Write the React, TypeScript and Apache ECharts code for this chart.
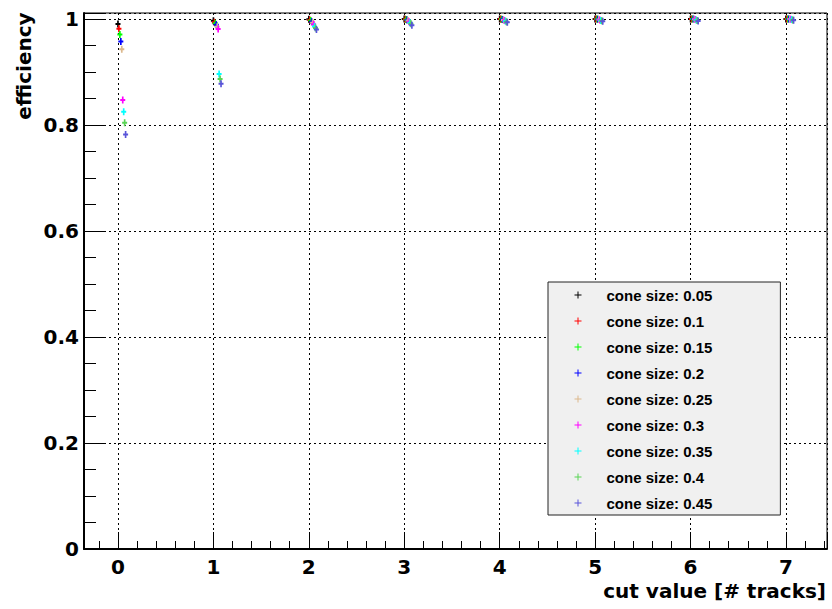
import React, { useEffect, useRef } from "react";
import * as echarts from "echarts";

const cutValues = [0, 1, 2, 3, 4, 5, 6, 7];
const coneNames = [
  "cone size: 0.05",
  "cone size: 0.1",
  "cone size: 0.15",
  "cone size: 0.2",
  "cone size: 0.25",
  "cone size: 0.3",
  "cone size: 0.35",
  "cone size: 0.4",
  "cone size: 0.45",
];
const eff005 = [0.9906, 0.9968, 0.9995, 1.0, 1.0, 1.0, 1.0, 1.0];
const eff010 = [0.9815, 0.994, 0.998, 0.9995, 1.0, 1.0, 1.0, 1.0];
const eff015 = [0.9705, 0.992, 0.997, 0.999, 0.9995, 1.0, 1.0, 1.0];
const eff020 = [0.9575, 0.989, 0.995, 0.998, 0.999, 0.9995, 1.0, 1.0];
const eff025 = [0.943, 0.9855, 0.993, 0.997, 0.998, 0.999, 0.9995, 1.0];
const eff030 = [0.847, 0.981, 0.99, 0.995, 0.997, 0.998, 0.999, 0.9995];
const eff035 = [0.825, 0.896, 0.986, 0.993, 0.996, 0.997, 0.998, 0.999];
const eff040 = [0.804, 0.887, 0.983, 0.991, 0.995, 0.9965, 0.997, 0.998];
const eff045 = [0.782, 0.878, 0.98, 0.988, 0.994, 0.9955, 0.996, 0.9975];
const effSeries = [eff005, eff010, eff015, eff020, eff025, eff030, eff035, eff040, eff045];
const xTickLabels = ["0", "1", "2", "3", "4", "5", "6", "7"];
const yTickLabels = ["0", "0.2", "0.4", "0.6", "0.8", "1"];

const colors = ["#000000", "#ff0000", "#00ff00", "#0000ff", "#dcb88c", "#ff00ff", "#00ffff", "#59d454", "#5954d9"];
const FONT = "DejaVu Sans";
const LEGEND_FONT = "Liberation Sans";
const plusSymbol = "path://M2,0H4V7H2Z M0,2.5H6V4.5H0Z";
const legendSymbol = "path://M3,0H4V7H3Z M0,3H7V4H0Z";

export default function App() {
  const ref = useRef<HTMLDivElement>(null);
  useEffect(() => {
    if (!ref.current) return;
    const chart = echarts.init(ref.current, null, { renderer: "svg" });
    const xMin = -0.356;
    const xMax = 7.43;
    const yMax = 1.0113;
    const series = effSeries.map((vals, i) => ({
      name: coneNames[i],
      type: "scatter",
      xAxisIndex: 0,
      yAxisIndex: 0,
      symbol: plusSymbol,
      symbolSize: [5, 7],
      itemStyle: { color: colors[i], opacity: 1 },
      data: vals.map((v, k) => [cutValues[k] + 0.01 * i, v]),
      z: 5,
    }));
    const labelStyle = { fontFamily: FONT, fontWeight: "bold", fontSize: 20, color: "#000" };
    chart.setOption({
      animation: false,
      grid: {
        left: 84,
        top: 13,
        right: 5,
        bottom: 60,
        show: true,
        borderColor: "#000",
        borderWidth: 1,
        backgroundColor: "transparent",
      },
      legend: {
        orient: "vertical",
        left: 548,
        top: 282,
        padding: [5, 68, 4, 26.5],
        itemWidth: 7,
        itemHeight: 7,
        itemGap: 10,
        icon: legendSymbol,
        backgroundColor: "#f0f0f0",
        borderColor: "#222",
        borderWidth: 1,
        selectedMode: false,
        textStyle: {
          fontFamily: LEGEND_FONT,
          fontWeight: "bold",
          fontSize: 15,
          color: "#000",
          lineHeight: 16,
          padding: [0, 0, 0, 20],
        },
        data: coneNames,
        z: 10,
      },
      xAxis: [
        {
          type: "value",
          position: "bottom",
          min: xMin,
          max: xMax,
          minInterval: 1,
          maxInterval: 1,
          splitNumber: 8,
          axisLine: { show: true, onZero: false, lineStyle: { color: "#000", width: 2 } },
          axisTick: { show: true, inside: true, length: 17, lineStyle: { color: "#000", width: 1 } },
          axisLabel: {
            ...labelStyle,
            margin: 8,
            showMinLabel: true,
            showMaxLabel: true,
            formatter: (v: number) => {
              const r = Math.round(v);
              return Math.abs(v - r) < 1e-6 && r >= 0 && r < xTickLabels.length ? xTickLabels[r] : "";
            },
          },
          splitLine: { show: true, lineStyle: { color: "#000", width: 1, type: [2, 3] } },
        },
        {
          type: "value",
          position: "bottom",
          min: xMin,
          max: xMax,
          minInterval: 0.2,
          maxInterval: 0.2,
          splitNumber: 40,
          axisLine: { show: false, onZero: false },
          axisTick: { show: true, inside: true, length: 8, lineStyle: { color: "#000", width: 1 } },
          axisLabel: { show: false },
          splitLine: { show: false },
        },
      ],
      yAxis: [
        {
          type: "value",
          position: "left",
          min: 0,
          max: yMax,
          interval: 0.2,
          axisLine: { show: true, onZero: false, lineStyle: { color: "#000", width: 2 } },
          axisTick: { show: true, inside: true, length: 22, lineStyle: { color: "#000", width: 1 } },
          axisLabel: {
            ...labelStyle,
            margin: 5,
            formatter: (v: number) => {
              const k = Math.round(v * 5);
              return Math.abs(v * 5 - k) < 1e-6 && k >= 0 && k < yTickLabels.length ? yTickLabels[k] : "";
            },
          },
          splitLine: { show: true, lineStyle: { color: "#000", width: 1, type: [2, 3] } },
        },
        {
          type: "value",
          position: "left",
          offset: 0,
          min: 0,
          max: yMax,
          interval: 0.05,
          axisLine: { show: false, onZero: false },
          axisTick: { show: true, inside: true, length: 12, lineStyle: { color: "#000", width: 1 } },
          axisLabel: { show: false },
          splitLine: { show: false },
        },
      ],
      graphic: [
        {
          type: "text",
          x: 826,
          y: 591,
          style: {
            text: "cut value [# tracks]",
            fontFamily: FONT,
            fontWeight: "bold",
            fontSize: 20,
            fill: "#000",
            align: "right",
            verticalAlign: "middle",
          },
        },
        {
          type: "text",
          x: 24,
          y: 66,
          rotation: Math.PI / 2,
          style: {
            text: "efficiency",
            fontFamily: FONT,
            fontWeight: "bold",
            fontSize: 20,
            fill: "#000",
            align: "center",
            verticalAlign: "middle",
          },
        },
      ],
      series,
    });
    return () => chart.dispose();
  }, []);
  return (
    <div
      ref={ref}
      style={{ position: "absolute", left: 0, top: 0, width: 832, height: 609, background: "#fff" }}
    />
  );
}
